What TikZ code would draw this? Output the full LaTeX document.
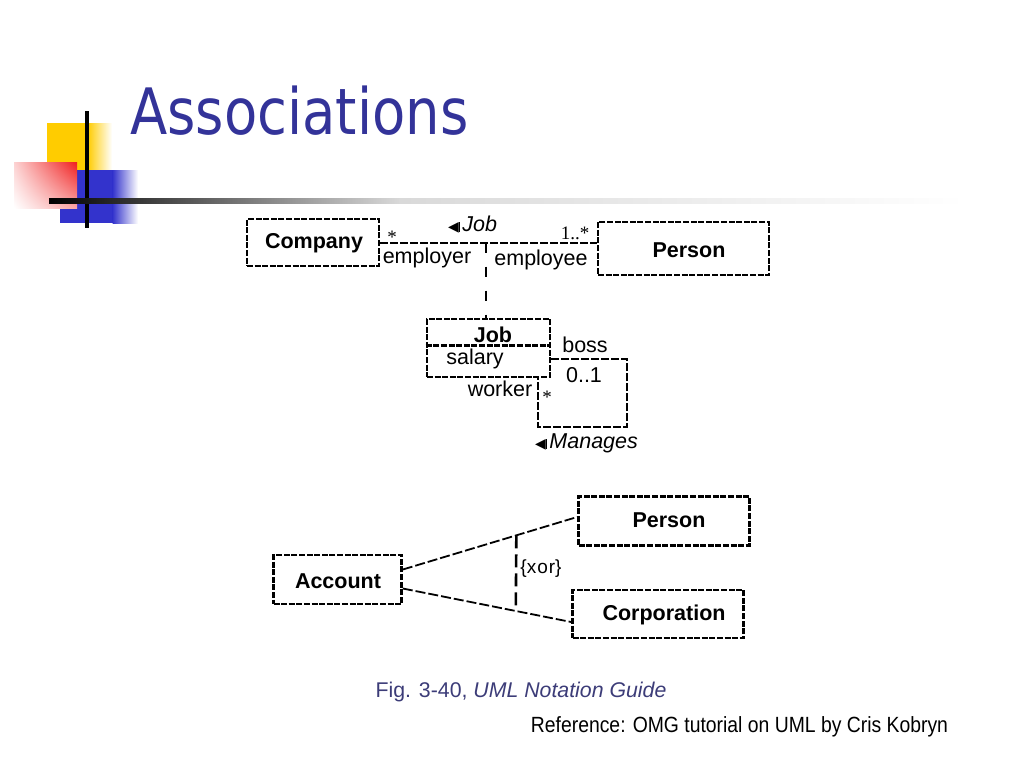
\documentclass[tikz,border=0pt]{standalone}
\usepackage{fontspec}
\usepackage{graphicx}
\setmainfont{Liberation Sans}
\newfontfamily\titlefont{DejaVu Sans}
\newfontfamily\symfont{DejaVu Sans}
\newfontfamily\serifnum{Liberation Serif}
\usetikzlibrary{calc,shadings}
\definecolor{titleblue}{RGB}{51,51,153}
\definecolor{capblue}{RGB}{60,60,120}
\definecolor{decoyellow}{RGB}{255,204,0}
\definecolor{decoblue}{RGB}{51,51,204}
\definecolor{decored}{RGB}{240,30,30}
\tikzset{
  umlbox/.style={draw, line width=2.6pt, dash pattern=on 6pt off 1.6pt, inner sep=0pt},
  assoc/.style={line width=2pt, dash pattern=on 8pt off 2pt},
  depline/.style={line width=2pt, dash pattern=on 10pt off 14pt},
  thinassoc/.style={line width=1.8pt, dash pattern=on 10pt off 3pt},
  xorline/.style={line width=2.6pt, dash pattern=on 13pt off 6pt},
  lbl/.style={inner sep=0pt, font=\fontsize{21.5}{24}\selectfont},
  blbl/.style={inner sep=0pt, font=\fontsize{21.5}{24}\selectfont\bfseries},
  mult/.style={inner sep=0pt, font=\serifnum\fontsize{19}{21}\selectfont},
}
\newcommand{\assoctri}{{\symfont\fontsize{14}{14}\selectfont ◀}\kern0.5pt\rule[-0.5pt]{1pt}{10pt}\kern2pt}
\begin{document}
\begin{tikzpicture}[x=1pt,y=-1pt]
\useasboundingbox (0,0) rectangle (1024,768);
% decoration
\fill[decoyellow] (47,123) rectangle (88,170);
\shade[left color=decoyellow, right color=white] (87.5,123) rectangle (112,170);
\fill[decoblue] (60,170) rectangle (113,223);
\shade[left color=decoblue, right color=white] (112.5,170) rectangle (138,223);
\shade[upper right=decored, upper left=white!80!decored, lower right=white!60!decored, lower left=white] (14,162) rectangle (77,208);
\draw[line width=4pt] (87,111) -- (87,228);
\shade[left color=black, right color=white!85!black] (49,198.5) rectangle (400,203.5);
\shade[left color=white!85!black, right color=white] (399.5,198.5) rectangle (965,203.5);
% title
\node[anchor=base west, inner sep=0pt, text=titleblue] (title) at (130,134)
  {\scalebox{0.85}[1]{\titlefont\fontsize{64}{70}\selectfont Associations}};

% top diagram
\node[umlbox, minimum width=132pt, minimum height=47pt] (company) at (313,242.5) {};
\node[blbl] (companyt) at (314,243) {Company};
\node[umlbox, minimum width=171pt, minimum height=53pt] (person) at (683.5,248.5) {};
\node[blbl] (persont) at (689,250) {Person};
\draw[assoc] (company.east) -- (company.east -| person.west) coordinate[pos=0.49] (mid);
\node[umlbox, minimum width=123pt, minimum height=58pt] (jobbox) at (488.5,348) {};
\draw[line width=2.6pt, dash pattern=on 6pt off 1.6pt] ([yshift=-28pt]jobbox.north west) -- ([yshift=-28pt]jobbox.north east);
\draw[depline] (mid) -- (mid |- jobbox.north);
\node[blbl] (jobt) at (493,335) {Job};
\node[lbl] (salary) at (475,359) {salary};
\node[lbl, anchor=west] (jobassoc) at (448,225) {\assoctri\textit{Job}};
\node[mult] (m1) at (392,237) {*};
\node[mult] (m2) at (575,233) {1..*};
\node[lbl] (employer) at (427,258) {employer};
\node[lbl] (employee) at (541,260) {employee};
% self association
\coordinate (s1) at (627,359);
\coordinate (s2) at (627,427);
\coordinate (s3) at (538,427);
\draw[assoc, line width=2.4pt] (jobbox.east |- s1) -- (s1) -- (s2) -- (s3) -- (s3 |- jobbox.south);
\node[lbl] (boss) at (585,345) {boss};
\node[lbl] (zo) at (584,375) {0..1};
\node[lbl] (worker) at (500,389) {worker};
\node[mult] (m3) at (547,397) {*};
\node[lbl, anchor=west] (manages) at (535,443) {\assoctri\textit{Manages}};

% bottom diagram
\node[umlbox, minimum width=128pt, minimum height=49pt] (account) at (337.5,579.5) {};
\node[blbl] (accountt) at (338,581) {Account};
\node[umlbox, minimum width=171pt, minimum height=49pt] (person2) at (664,521) {};
\node[blbl] (person2t) at (669,520) {Person};
\node[umlbox, minimum width=171pt, minimum height=48pt] (corp) at (658,614) {};
\node[blbl] (corpt) at (664,615) {Corporation};
\draw[thinassoc] ([yshift=10pt]account.east) -- ([yshift=4pt]person2.west) coordinate[pos=0.651] (x1);
\draw[thinassoc] ([yshift=-9pt]account.east) -- ([yshift=-8pt]corp.west) coordinate[pos=0.671] (x2);
\draw[xorline] (x1) -- (x2);
\node[lbl, font=\fontsize{19}{21}\selectfont] (xor) at (541,569) {\{x\kern1pt o\kern1pt r\}};

% captions
\node[inner sep=0pt, text=capblue, font=\fontsize{21.3}{24}\selectfont] (cap) at (521,692) {Fig. 3-40, \textit{UML Notation Guide}};
\node[inner sep=0pt, font=\fontsize{22}{25}\selectfont] (ref) at (739.5,727) {\scalebox{0.88}[1]{Reference: OMG tutorial on UML by Cris Kobryn}};
\end{tikzpicture}
\end{document}
